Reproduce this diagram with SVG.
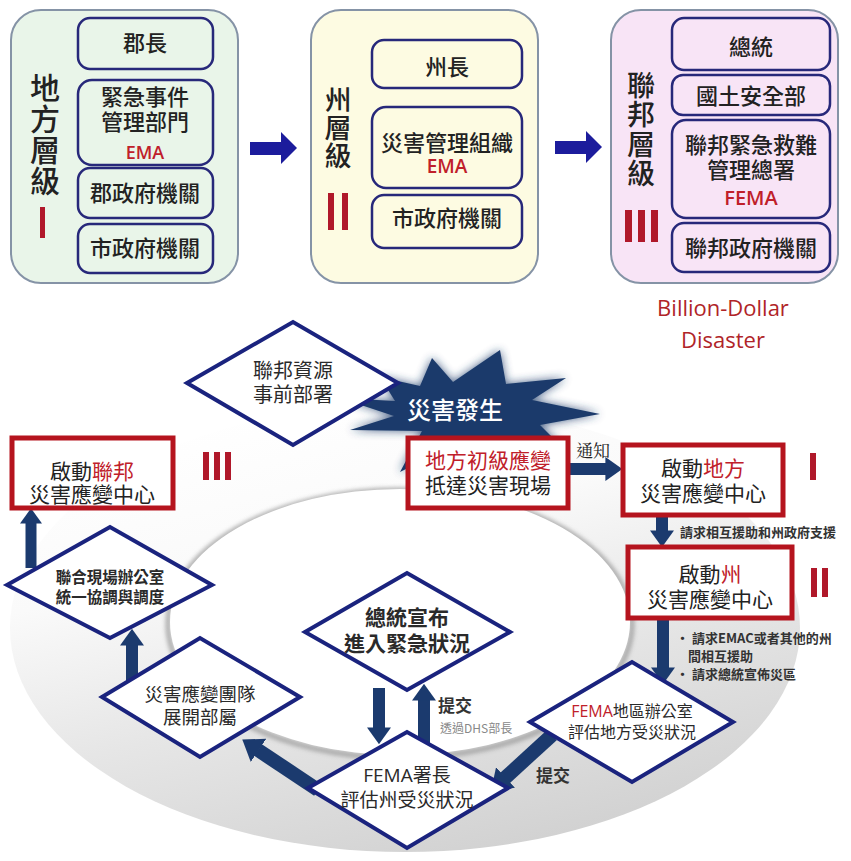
<svg xmlns="http://www.w3.org/2000/svg" width="851" height="861" viewBox="0 0 851 861">
<style>
.cjk{font-family:"Noto Sans CJK TC","Noto Sans CJK SC",sans-serif;}
.lat{font-family:"Open Sans","Liberation Sans",sans-serif;}
.panel{stroke:#8593a6;stroke-width:2;}
.ibox{fill:none;stroke:#27287a;stroke-width:2.5;}
.it{font-size:22px;fill:#222;text-anchor:middle;font-weight:500;}
.vt{fill:#222;font-weight:500;writing-mode:vertical-rl;text-anchor:start;}
.red{fill:#c0202a;}
.num{fill:#b0182a;}
.rbox{fill:#fff;stroke:#b5141e;stroke-width:5;}
.bt{font-size:21px;fill:#222;text-anchor:middle;}
.dia{fill:#fff;stroke:#1a237e;stroke-width:4;stroke-linejoin:miter;}
.dt{fill:#2a2a2a;text-anchor:middle;}
.conn{stroke:#1b3a6e;fill:none;}
.small{font-size:13px;fill:#333;font-weight:700;}
</style>
<defs>
<marker id="ah" viewBox="0 0 1.4 2" markerWidth="1.4" markerHeight="2" refX="0.05" refY="1" orient="auto" markerUnits="strokeWidth">
<path d="M0,0 L1.4,1 L0,2 z" fill="#1b3a6e"/>
</marker>
<linearGradient id="ring" x1="0.2" y1="0.05" x2="0.6" y2="1">
<stop offset="0" stop-color="#ffffff"/>
<stop offset="0.3" stop-color="#fafafa"/>
<stop offset="0.62" stop-color="#e6e6e6"/>
<stop offset="1" stop-color="#d2d2d2"/>
</linearGradient>
<filter id="blur" x="-20%" y="-40%" width="140%" height="180%"><feGaussianBlur stdDeviation="5"/></filter>
<filter id="soft" x="-10%" y="-10%" width="120%" height="120%"><feGaussianBlur stdDeviation="2"/></filter>
</defs>
<rect width="851" height="861" fill="#fff"/>

<!-- top panels -->
<g id="panel-local">
<rect class="panel" x="11" y="10" width="227" height="273" rx="30" fill="#e9f5e9"/>
<rect class="ibox" x="78" y="18" width="135" height="51" rx="12"/>
<text class="cjk it" x="145" y="51">郡長</text>
<rect class="ibox" x="78" y="80" width="135" height="85" rx="14"/>
<text class="cjk it" x="145" y="105">緊急事件<tspan x="145" dy="25">管理部門</tspan><tspan x="145" dy="29" class="lat red" font-size="18" font-weight="600">EMA</tspan></text>
<rect class="ibox" x="78" y="168" width="135" height="50" rx="12"/>
<text class="cjk it" x="145" y="201">郡政府機關</text>
<rect class="ibox" x="78" y="224" width="135" height="49" rx="12"/>
<text class="cjk it" x="145" y="256">市政府機關</text>
<text class="cjk vt" x="45" y="73" font-size="30" letter-spacing="1">地方層級</text>
<rect class="num" x="40" y="207" width="5" height="31"/>
</g>

<g id="panel-state">
<rect class="panel" x="311" y="10" width="227" height="273" rx="30" fill="#fdfbe2"/>
<rect class="ibox" x="372" y="40" width="150" height="48" rx="12"/>
<text class="cjk it" x="447" y="75">州長</text>
<rect class="ibox" x="372" y="107" width="150" height="81" rx="14"/>
<text class="cjk it" x="447" y="151" font-size="23">災害管理組織<tspan x="447" dy="22" class="lat red" font-size="19" font-weight="600">EMA</tspan></text>
<rect class="ibox" x="372" y="195" width="150" height="53" rx="12"/>
<text class="cjk it" x="447" y="226" font-size="23">市政府機關</text>
<text class="cjk vt" x="338" y="86" font-size="27" letter-spacing="1">州層級</text>
<rect class="num" x="328" y="193" width="6" height="37"/>
<rect class="num" x="342" y="193" width="6" height="37"/>
</g>

<g id="panel-federal">
<rect class="panel" x="611" y="10" width="227" height="273" rx="30" fill="#f8e4f6"/>
<rect class="ibox" x="672" y="18" width="158" height="52" rx="12"/>
<text class="cjk it" x="751" y="55">總統</text>
<rect class="ibox" x="672" y="75" width="158" height="40" rx="11"/>
<text class="cjk it" x="751" y="104" font-size="23">國土安全部</text>
<rect class="ibox" x="672" y="120" width="158" height="98" rx="14"/>
<text class="cjk it" x="751" y="153" font-size="23">聯邦緊急救難<tspan x="751" dy="25">管理總署</tspan><tspan x="751" dy="27" class="lat red" font-size="20" font-weight="600">FEMA</tspan></text>
<rect class="ibox" x="672" y="223" width="158" height="49" rx="12"/>
<text class="cjk it" x="751" y="256" font-size="23">聯邦政府機關</text>
<text class="cjk vt" x="641" y="71" font-size="28" letter-spacing="1.5">聯邦層級</text>
<rect class="num" x="625" y="210" width="7" height="32"/>
<rect class="num" x="638" y="210" width="7" height="32"/>
<rect class="num" x="651" y="210" width="7" height="32"/>
</g>

<g id="top-arrows" fill="#1c1c9c">
<polygon points="250,142 281,142 281,132 297,148 281,164 281,155 250,155"/>
<polygon points="555,141 586,141 586,131 602,147 586,163 586,154 555,154"/>
</g>

<text class="lat" x="723" y="316" font-size="22" fill="#b02428" text-anchor="middle">Billion-Dollar<tspan x="723" dy="32">Disaster</tspan></text>

<!-- ring background -->
<g id="ring-bg">
<ellipse cx="405" cy="628" rx="395" ry="224" fill="url(#ring)"/>
<ellipse cx="400" cy="624" rx="232" ry="134" fill="none" stroke="#9a9a9a" stroke-width="5" filter="url(#soft)" opacity="0.8"/>
<ellipse cx="400" cy="622" rx="230" ry="133" fill="#fff"/>
</g>

<!-- burst -->
<g id="burst">
<polygon points="340,398 395,401 380,377 420,386 432,358 453,382 500,350 506,384 566,378 532,400 600,414 540,425 560,445 470,437 400,472 422,431 350,430 394,416" fill="#1b3a6b" filter="url(#blur)" opacity="0.8"/>
<polygon points="340,398 395,401 380,377 420,386 432,358 453,382 500,350 506,384 566,378 532,400 600,414 540,425 560,445 470,437 400,472 422,431 350,430 394,416" fill="#1b3a6b"/>
<text class="cjk" x="455" y="419" font-size="24" fill="#fff" text-anchor="middle" font-weight="500">災害發生</text>
</g>

<!-- connectors -->
<g id="connectors" class="conn" marker-end="url(#ah)">
<line x1="568" y1="469" x2="606" y2="469" stroke-width="12"/>
<line x1="662" y1="515" x2="662" y2="531" stroke-width="12"/>
<line x1="663" y1="618" x2="663" y2="668" stroke-width="12"/>
<line x1="552" y1="735" x2="505" y2="778" stroke-width="14"/>
<line x1="424" y1="752" x2="424" y2="700" stroke-width="12"/>
<line x1="379" y1="688" x2="379" y2="728" stroke-width="12"/>
<line x1="318" y1="790" x2="258" y2="750" stroke-width="14"/>
<line x1="132" y1="682" x2="132" y2="645" stroke-width="12"/>
<line x1="31" y1="568" x2="31" y2="523" stroke-width="11"/>
</g>

<g id="connector-labels">
<text x="593" y="457" font-size="17" fill="#222" text-anchor="middle" font-family="'Noto Serif CJK TC','Noto Sans CJK TC',serif">通知</text>
<text class="cjk small" x="680" y="537">請求相互援助和州政府支援</text>
<text class="cjk small" x="676" y="643">· 請求EMAC或者其他的州<tspan x="688" dy="18">間相互援助</tspan><tspan x="676" dy="18">· 請求總統宣佈災區</tspan></text>
<text class="cjk" x="438" y="712" font-size="17" fill="#333" font-weight="700">提交<tspan x="440" dy="21" font-size="12" fill="#888" font-weight="400">透過DHS部長</tspan></text>
<text class="cjk" x="536" y="782" font-size="17" fill="#333" font-weight="700">提交</text>
</g>

<!-- nodes -->
<g id="n-federal-resources">
<polygon class="dia" points="187,383 293,322 398,383 293,445"/>
<text class="cjk dt" x="293" y="378" font-size="20">聯邦資源<tspan x="293" dy="24">事前部署</tspan></text>
</g>

<g id="n-local-first">
<rect class="rbox" x="408" y="438" width="160" height="70"/>
<text class="cjk bt" x="488" y="468"><tspan class="red">地方初級應變</tspan><tspan x="488" dy="25">抵達災害現場</tspan></text>
</g>

<g id="n-local-eoc">
<rect class="rbox" x="623" y="445" width="160" height="70"/>
<text class="cjk bt" x="703" y="476">啟動<tspan class="red">地方</tspan><tspan x="703" dy="25">災害應變中心</tspan></text>
<rect class="num" x="810" y="453" width="6" height="27"/>
</g>

<g id="n-state-eoc">
<rect class="rbox" x="628" y="547" width="164" height="71"/>
<text class="cjk bt" x="710" y="582">啟動<tspan class="red">州</tspan><tspan x="710" dy="25">災害應變中心</tspan></text>
<rect class="num" x="811" y="568" width="6" height="29"/>
<rect class="num" x="822" y="568" width="6" height="29"/>
</g>

<g id="n-federal-eoc">
<rect class="rbox" x="12" y="438" width="161" height="70"/>
<text class="cjk bt" x="92" y="479">啟動<tspan class="red">聯邦</tspan><tspan x="92" dy="23">災害應變中心</tspan></text>
<rect class="num" x="203" y="452" width="6" height="28"/>
<rect class="num" x="214" y="452" width="6" height="28"/>
<rect class="num" x="225" y="452" width="6" height="28"/>
</g>

<g id="n-joint-office">
<polygon class="dia" points="7,585 110,527 212,585 110,638"/>
<text class="cjk dt" x="110" y="583" font-size="15.5" font-weight="700">聯合現場辦公室<tspan x="110" dy="20">統一協調與調度</tspan></text>
</g>

<g id="n-response-team">
<polygon class="dia" points="102,697 200,638 300,697 200,757"/>
<text class="cjk dt" x="200" y="701" font-size="18.5">災害應變團隊<tspan x="200" dy="23">展開部屬</tspan></text>
</g>

<g id="n-president">
<polygon class="dia" points="305,632 407,573 510,632 407,690"/>
<text class="cjk dt red" x="407" y="625" font-size="21" font-weight="700">總統宣布<tspan x="407" dy="26">進入緊急狀況</tspan></text>
</g>

<g id="n-fema-chief">
<polygon class="dia" points="308,788 407,732 508,788 407,848"/>
<text class="cjk dt" x="407" y="782" font-size="19"><tspan class="lat">FEMA</tspan>署長<tspan x="407" dy="25">評估州受災狀況</tspan></text>
</g>

<g id="n-fema-region">
<polygon class="dia" points="530,722 632,662 733,722 632,782"/>
<text class="cjk dt" x="632" y="717" font-size="16"><tspan class="lat red">FEMA</tspan>地區辦公室<tspan x="632" dy="21">評估地方受災狀況</tspan></text>
</g>
</svg>
